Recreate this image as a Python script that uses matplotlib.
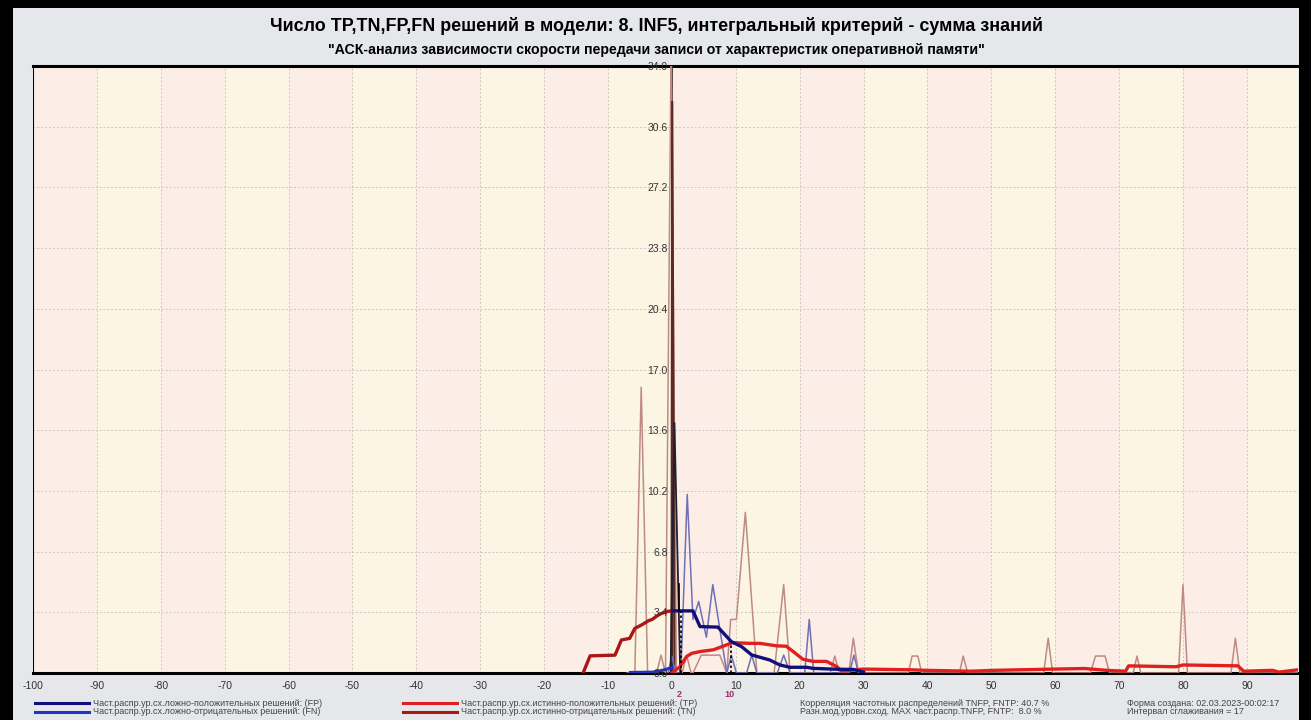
import numpy as np
import matplotlib
matplotlib.use('Agg')
import matplotlib.pyplot as plt
from matplotlib.patches import Rectangle
from matplotlib.lines import Line2D
import matplotlib.transforms as mtransforms

plt.rcParams['font.family'] = ['Liberation Sans', 'DejaVu Sans']

title = "Число TP,TN,FP,FN решений в модели: 8. INF5, интегральный критерий - сумма знаний"
subtitle = "\"АСК-анализ зависимости скорости передачи записи от характеристик оперативной памяти\""

# thin (raw) distributions
tn_raw_x = [-7, -5.8, -4.8, -3.8, -2.4, -1.7, -1.0, -0.1, 0.7]
tn_raw_y = [0, 0, 16.0, 0, 0, 1.0, 0, 36.0, 0]
tn_peak_x = [-0.05, 0.05, 0.4]
tn_peak_y = [0, 32.0, 0]
tp_raw_x = [1.6, 2.3, 3.0, 3.3, 4.6, 7.5, 8.6, 9.2, 10.1, 11.5, 13.3, 16.0, 17.5, 18.5,
            24.8, 25.5, 26.2, 27.7, 28.4, 29.2, 37.0, 37.6, 38.5, 39.1, 45.0, 45.6, 46.3,
            58.2, 58.9, 59.6, 65.5, 66.3, 67.8, 68.5, 72.2, 72.8, 73.4, 79.3, 80.0, 80.7,
            87.5, 88.2, 88.9, 98]
tp_raw_y = [0, 1.0, 0, 0, 1.0, 1.0, 0, 3.0, 3.0, 9.0, 0, 0, 4.95, 0,
            0, 0.95, 0, 0, 1.95, 0, 0, 0.95, 0.95, 0, 0, 0.95, 0,
            0, 1.95, 0, 0, 0.95, 0.95, 0, 0, 0.95, 0, 0, 4.95, 0,
            0, 1.95, 0, 0]
fp_raw_x = [-0.2, 0.4, 1.3]
fp_raw_y = [0, 14.0, 0]
fn_raw_x = [-0.6, 0.0, 0.6, 1.4, 2.4, 3.3, 4.2, 5.4, 6.4, 8.6, 9.3, 10.1, 11.7, 12.5, 13.3,
            16.5, 17.5, 18.5, 20.8, 21.5, 22.2, 27.8, 28.5, 29.2]
fn_raw_y = [0, 0.95, 0, 0, 10.0, 3.0, 4.0, 2.0, 4.95, 0, 1.0, 0, 0, 1.0, 0,
            0, 1.0, 0, 0, 3.0, 0, 0, 1.0, 0]

# smoothed distributions (interval 17)
tn_x = [-13.9, -12.8, -8.9, -7.9, -6.6, -5.8, -4.7, -3.7, -3.1, -1.9, -0.8, 0.1]
tn_y = [0, 0.96, 1.0, 1.85, 1.94, 2.5, 2.7, 2.92, 3.0, 3.3, 3.45, 3.48]
fp_x = [0.1, 3.3, 4.4, 7.2, 9.3, 10.9, 12.5, 13.8, 15.3, 16.9, 18.5, 21.1, 22.1, 25.8, 28.4, 30.0]
fp_y = [3.48, 3.48, 2.6, 2.57, 1.76, 1.48, 1.01, 0.88, 0.73, 0.45, 0.32, 0.32, 0.26, 0.21, 0.2, 0.05]
fn_x = [-6.5, -3.0, -1.5, 0.0]
fn_y = [0.03, 0.05, 0.15, 0.3]
tp_x = [0, 1.25, 2.3, 3.1, 4.4, 6.5, 8.0, 9.5, 12.2, 13.8, 16.4, 17.9, 19.0, 20.5, 22.1, 24.2,
        25.8, 26.6, 29.4, 30, 37.3, 39.7, 46.8, 50.5, 60, 64.6, 68, 71, 71.5, 78.9, 80, 88.6,
        89.5, 94, 95, 98]
tp_y = [0.0, 0.35, 0.92, 1.1, 1.2, 1.3, 1.5, 1.7, 1.66, 1.66, 1.52, 1.5, 1.2, 0.77, 0.65, 0.65,
        0.36, 0.1, 0.2, 0.22, 0.18, 0.15, 0.1, 0.15, 0.22, 0.25, 0.15, 0.1, 0.4, 0.35, 0.45, 0.4,
        0.1, 0.15, 0.05, 0.18]

# crossing markers
cross_x = [1.5, 9.3]
cross_y = [3.45, 1.7]
cross_lbl = ['2', '10']

xticks = list(range(-100, 100, 10))
yticks = [0.0, 3.4, 6.8, 10.2, 13.6, 17.0, 20.4, 23.8, 27.2, 30.6, 34.0]

legend_items = [
    ("Част.распр.ур.сх.ложно-положительных решений: (FP)", '#10107a'),
    ("Част.распр.ур.сх.ложно-отрицательных решений: (FN)", '#2233c8'),
    ("Част.распр.ур.сх.истинно-положительных решений: (TP)", '#e02020'),
    ("Част.распр.ур.сх.истинно-отрицательных решений: (TN)", '#a81818'),
]
info = ["Корреляция частотных распределений TNFP, FNTP: 40.7 %",
        "Разн.мод.уровн.сход. MAX част.распр.TNFP, FNTP:  8.0 %",
        "Форма создана: 02.03.2023-00:02:17",
        "Интервал сглаживания = 17"]

W, H = 1311, 720
fig = plt.figure(figsize=(W / 100, H / 100), dpi=100, facecolor='black')
fig.patches.append(Rectangle((13 / W, 0), (1299 - 13) / W, 1 - 8 / H, transform=fig.transFigure,
                             facecolor='#e6e7ea', edgecolor='none', zorder=-10))

ax = fig.add_axes([33 / W, 1 - 673 / H, (1298 - 33) / W, (673 - 66) / H])
ax.set_xlim(-100, 98)
ax.set_ylim(0, 34)

for i, x0 in enumerate(range(-100, 100, 10)):
    ax.axvspan(x0, x0 + 10, color='#fceee6' if i % 2 == 0 else '#fcf5e3', zorder=0, lw=0)

for x0 in xticks[1:]:
    ax.axvline(x0, color='#c8c8c8', ls=(0, (2, 2)), lw=0.7, zorder=1)
for y0 in yticks[1:-1]:
    ax.axhline(y0, color='#c8c8c8', ls=(0, (2, 2)), lw=0.7, zorder=1)

ax.plot(tn_raw_x, tn_raw_y, color='#bf8a84', lw=1.1, zorder=3)
ax.plot(tp_raw_x, tp_raw_y, color='#bf8a84', lw=1.1, zorder=3)
ax.plot(tn_peak_x, tn_peak_y, color='#5a2a24', lw=1.6, zorder=3)
ax.plot(fn_raw_x, fn_raw_y, color='#7070b4', lw=1.1, zorder=3)
ax.plot(fp_raw_x, fp_raw_y, color='#202030', lw=1.3, zorder=3)

ax.plot(tn_x, tn_y, color='#a81818', lw=2.4, zorder=4)
ax.plot(tp_x, tp_y, color='#e02020', lw=2.4, zorder=4)
ax.plot(fn_x, fn_y, color='#2233c8', lw=2.2, zorder=4)
ax.plot(fp_x, fp_y, color='#10107a', lw=2.4, zorder=5)

for cx, cy in zip(cross_x, cross_y):
    ax.plot([cx, cx], [0, cy], color='black', ls=(0, (1.5, 1.5)), lw=1.2, zorder=6)
ax.plot([1.15, 1.15], [3.45, 5.0], color='black', lw=1.2, zorder=6)

trans = mtransforms.blended_transform_factory(ax.transData, ax.transAxes)
for cx, lb in zip(cross_x, cross_lbl):
    ax.text(cx - 0.3, -0.028, lb, transform=trans, ha='center', va='top', fontsize=6.5,
            fontweight='bold', color='#a0306e')

ax.spines['left'].set_position(('data', 0))
ax.spines['left'].set_color('black')
ax.spines['left'].set_linewidth(1.2)
ax.spines['right'].set_visible(False)
ax.spines['top'].set_linewidth(2.2)
ax.spines['bottom'].set_linewidth(2.2)
ax.axvline(-100, color='black', lw=1.5, zorder=7)

ax.set_xticks(xticks)
ax.set_xticklabels([str(t) for t in xticks])
ax.set_yticks(yticks)
ax.set_yticklabels([f"{t:.1f}" for t in yticks])
ax.tick_params(axis='x', length=0, pad=6, labelsize=7.5, labelcolor='#333333')
ax.tick_params(axis='y', length=0, pad=3, labelsize=7.5, labelcolor='#333333')
ax.yaxis.set_zorder(4.5)

fig.text(656 / W, 1 - 26 / H, title, ha='center', va='center', fontsize=12.9, fontweight='bold')
fig.text(656 / W, 1 - 50 / H, subtitle, ha='center', va='center', fontsize=10.2, fontweight='bold')

rows = [1 - 703 / H, 1 - 712 / H]
for k, (txt, col) in enumerate(legend_items):
    x_line = 35 if k < 2 else 403
    yy = rows[k % 2]
    fig.add_artist(Line2D([x_line / W, (x_line + 54) / W], [yy, yy], color=col, lw=2.2))
    fig.text((x_line + 58) / W, yy, txt, ha='left', va='center', fontsize=6.5, color='#444444')
for k, txt in enumerate(info):
    x_txt = 800 if k < 2 else 1127
    fig.text(x_txt / W, rows[k % 2], txt, ha='left', va='center', fontsize=6.5, color='#444444')

fig.savefig('out.png', dpi=100, facecolor=fig.get_facecolor())
